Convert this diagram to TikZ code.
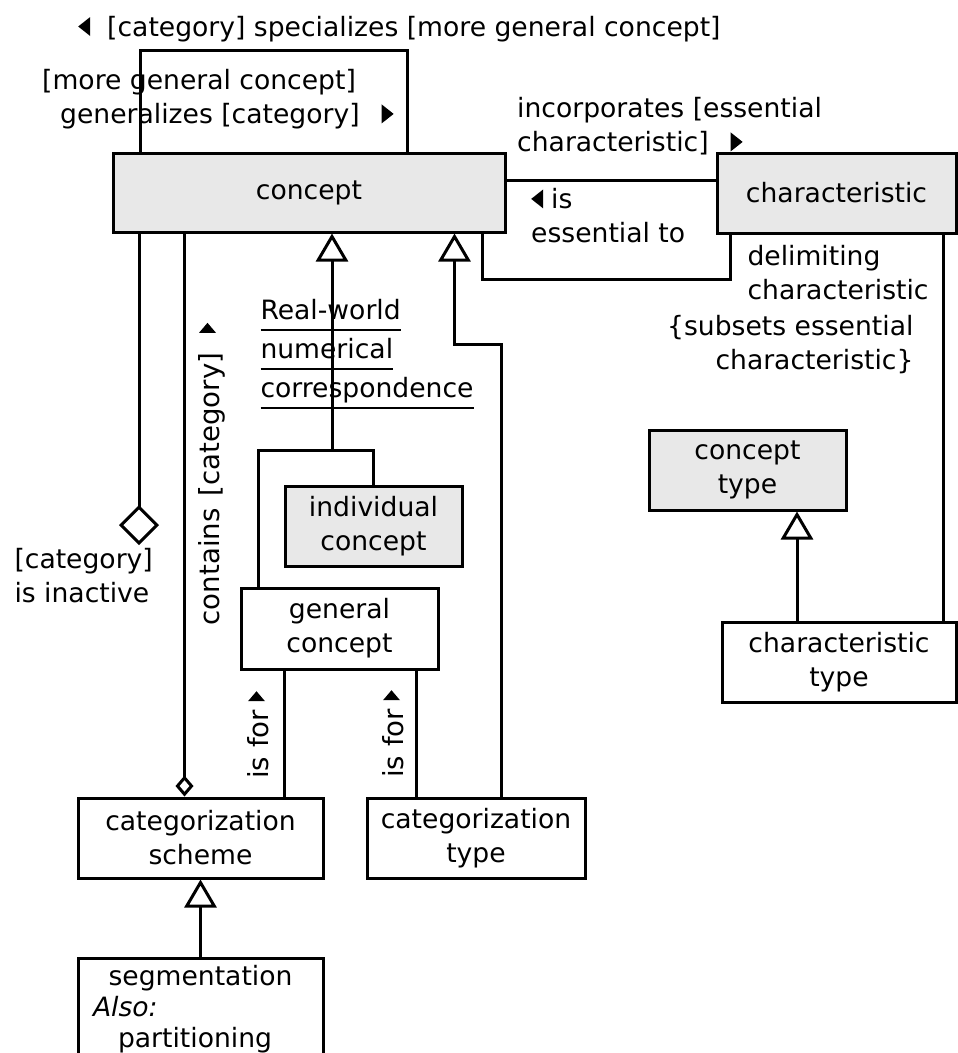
\documentclass[tikz,border=0pt]{standalone}
\usepackage{fontspec}
\setmainfont{DejaVu Sans}
\usetikzlibrary{arrows.meta}
\definecolor{boxgray}{RGB}{232,232,232}
\newcommand\rtri{\tikz[x=1pt,y=1pt,baseline=0pt]\fill (0,0) -- (0,19) -- (12,9.5) -- cycle;}
\newcommand\ltri{\tikz[x=1pt,y=1pt,baseline=0pt]\fill (12,0) -- (12,19) -- (0,9.5) -- cycle;}
\newcommand\uptri{\tikz[x=1pt,y=1pt,baseline=0pt]\fill (0,3) -- (0,20) -- (10,11.5) -- cycle;}
\newcommand\ulined[1]{\setbox0\hbox{#1}\rlap{\rule[-11pt]{\wd0}{1.8pt}}\box0}
\begin{document}
\begin{tikzpicture}[x=1pt,y=-1pt,line width=3pt,
		font=\fontsize{26.6pt}{34pt}\selectfont,
		cls/.style={draw,inner sep=0pt,align=center},
		shaded/.style={cls,fill=boxgray},
		gen/.style={-{Triangle[open,length=28pt,width=32pt,fill=white]}},
		agg/.style={-{Diamond[open,length=21pt,width=18pt]}},
		bigagg/.style={-{Diamond[open,length=40pt,width=40pt]}},
		lbl/.style={inner sep=0pt,align=left},
		vlbl/.style={rotate=90,anchor=base,inner sep=0pt,font=\fontsize{27.6pt}{34pt}\selectfont}]
		\clip (0,0) rectangle (958,1053);

		\node[shaded,minimum width=392pt,minimum height=79pt] (concept) at (309,192.5) {concept};
		\node[shaded,minimum width=239pt,minimum height=80pt] (characteristic) at (836.5,193) {characteristic};
		\node[shaded,minimum width=197pt,minimum height=80pt] (concepttype) at (747.5,470) {concept\\type};
		\node[cls,minimum width=234pt,minimum height=80pt] (chartype) at (839,662) {characteristic\\type};
		\node[shaded,minimum width=177pt,minimum height=80pt] (individual) at (373.5,526) {individual\\concept};
		\node[cls,minimum width=197pt,minimum height=81pt] (general) at (339.5,628.5) {general\\concept};
		\node[cls,minimum width=245pt,minimum height=80pt] (scheme) at (200.5,838) {categorization\\scheme};
		\node[cls,minimum width=218pt,minimum height=80pt] (cattype) at (476,838) {categorization\\type};
		\node[cls,anchor=north,text width=215pt,inner xsep=15pt,inner ysep=7pt,align=left] (segment) at (200.5,957)
			{\makebox[\linewidth]{segmentation}\\[-3pt]\textit{Also:}\\[-3pt]\hspace*{25pt}partitioning};

		\coordinate (assoc) at (0,180);
		\coordinate (inact) at (139,545);
		\coordinate (join) at (332,450);

		\draw ([xshift=29pt]concept.north west) -- ++(0,-101) -| ([xshift=-99pt]concept.north east);
		\draw (concept.east |- assoc) -- (characteristic.west |- assoc);
		\draw ([xshift=-24pt]concept.south east) -- ++(0,46) -| ([xshift=15pt]characteristic.south west);
		\draw ([xshift=-14pt]characteristic.south east) -- ([xshift=-14pt]chartype.north east);
		\draw[gen] ([xshift=-42pt]chartype.north) -- ([xshift=-42pt]chartype.north |- concepttype.south);
		\draw[bigagg] (concept.south -| inact) -- (inact);
		\draw[agg] ([xshift=73pt]concept.south west) -- ([xshift=108pt]scheme.north west);
		\draw ([xshift=45pt]general.south west) -- ([xshift=208pt]scheme.north west);
		\draw ([xshift=177pt]general.south west) -- ([xshift=51pt]cattype.north west);
		\draw[gen] ([xshift=136pt]cattype.north west) -- ++(0,-452) -| ([xshift=343pt]concept.south west);
		\draw ([xshift=19pt]general.north west) |- (join) -| (individual.north);
		\draw[gen] (join) -- (concept.south -| join);
		\draw[gen] (segment.north) -- (scheme.south);

		\node[lbl,anchor=base west] (speclbl) at (78,36) {\ltri\hspace{17pt}[category] specializes [more general concept]};
		\node[lbl,anchor=north west] (genlbl) at (42,69) {[more general concept]\\\hspace*{18pt}generalizes [category]\hspace{22pt}\rtri};
		\node[lbl,anchor=north west] (inclbl) at (517,97) {incorporates [essential\\characteristic]\hspace{22pt}\rtri};
		\node[lbl,anchor=north west] (esslbl) at (531,188) {\ltri\hspace{8pt}is\\essential to};
		\node[lbl,anchor=north west] (dellbl) at (746,244) {delimiting\\characteristic};
		\node[lbl,anchor=north east,align=right] (sublbl) at (915,314) {\{subsets essential\\characteristic\}};
		\node[lbl,anchor=north west] (inalbl) at (13,547) {[category]\\is inactive};
		\node[lbl,anchor=north west] (reallbl) at (259,298) {\ulined{Real-world}\\[5pt]\ulined{numerical}\\[5pt]\ulined{correspondence}};
		\node[vlbl] (contlbl) at (219,474) {contains\hspace{12pt}[category]\hspace{20pt}\uptri};
		\node[vlbl] (forlbl) at (268,735) {is for \uptri};
		\node[vlbl] (forlbltwo) at (403,734) {is for \uptri};
	\end{tikzpicture}
\end{document}
